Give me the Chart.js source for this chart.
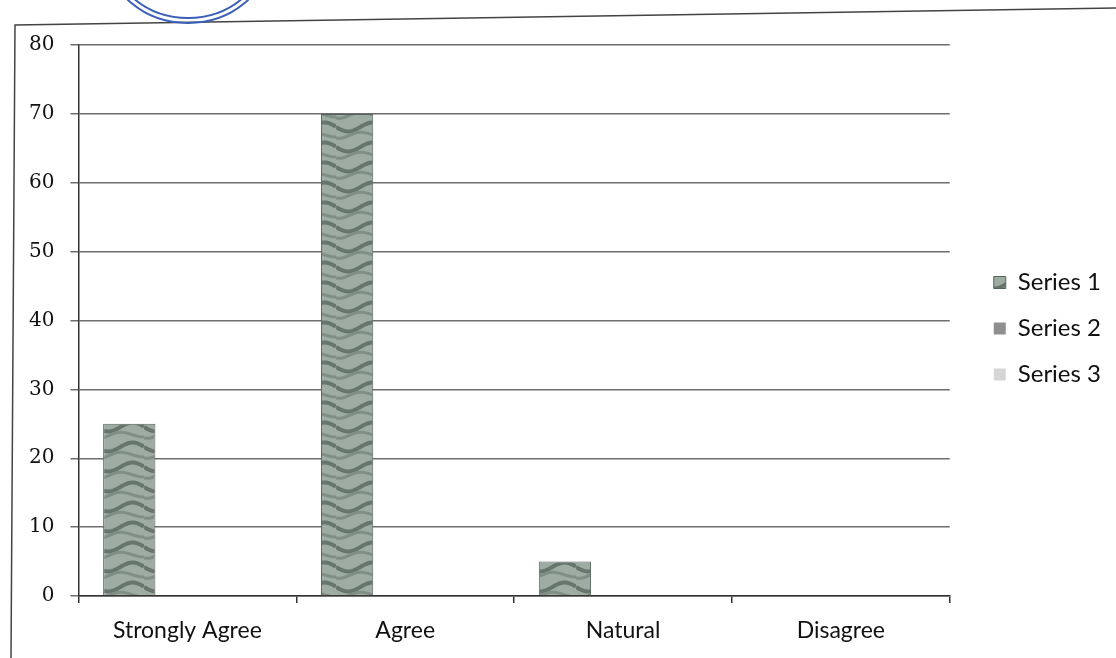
<!DOCTYPE html>
<html>
<head>
<meta charset="utf-8">
<script src="https://cdn.jsdelivr.net/npm/chart.js@4/dist/chart.umd.min.js"></script>
<style>
  html, body { margin: 0; padding: 0; background: #fff; }
  #wrap { width: 1116px; height: 658px; }
</style>
</head>
<body>
<div id="wrap"><canvas id="chart"></canvas></div>
<script>
var categories = ['Strongly Agree', 'Agree', 'Natural', 'Disagree'];
var series1 = [25, 70, 5, 0];
var series2 = [0, 0, 0, 0];
var series3 = [0, 0, 0, 0];
var yTicks = [0, 10, 20, 30, 40, 50, 60, 70, 80];

// wavy grey-green texture like the printed bars
function barPattern() {
  var c = document.createElement('canvas');
  c.width = 48;
  c.height = 20;
  var g = c.getContext('2d');
  g.fillStyle = '#9eaca3';
  g.fillRect(0, 0, 48, 20);
  g.strokeStyle = '#66766c';
  g.lineWidth = 4;
  g.beginPath();
  for (var x = 0; x <= 48; x += 2) {
    var y = 7 + 3 * Math.sin(x / 48 * Math.PI * 2) + 1.5 * Math.sin(x / 8);
    if (x === 0) g.moveTo(x, y); else g.lineTo(x, y);
  }
  g.stroke();
  g.strokeStyle = '#7f8f85';
  g.lineWidth = 3;
  g.beginPath();
  for (x = 0; x <= 48; x += 2) {
    y = 15 + 2.5 * Math.sin(x / 48 * Math.PI * 2 + 1) + Math.cos(x / 6);
    if (x === 0) g.moveTo(x, y); else g.lineTo(x, y);
  }
  g.stroke();
  return g.createPattern(c, 'repeat');
}

var LEGEND_DX = 22, LEGEND_DY = -23;

// scanned page frame and stamp edge
var pageFrame = {
  id: 'pageFrame',
  beforeLayout: function (chart) {
    var lg = chart.legend;
    if (lg && !lg._shifted) {
      var fit = lg.fit, draw = lg.draw;
      lg.fit = function () { fit.apply(this, arguments); this.width += LEGEND_DX; };
      lg.draw = function () {
        this.ctx.save();
        this.ctx.translate(LEGEND_DX, LEGEND_DY);
        draw.apply(this, arguments);
        this.ctx.restore();
      };
      lg._shifted = true;
    }
  },
  beforeDraw: function (chart) {
    var ctx = chart.ctx;
    ctx.save();
    ctx.fillStyle = '#fff';
    ctx.fillRect(0, 0, chart.width, chart.height);
    ctx.strokeStyle = '#444';
    ctx.lineWidth = 1.5;
    ctx.beginPath();
    ctx.moveTo(11, 658);
    ctx.lineTo(15, 25);
    ctx.lineTo(1116, 8);
    ctx.stroke();
    ctx.strokeStyle = '#3a5fb8';
    ctx.lineWidth = 2;
    ctx.beginPath();
    ctx.ellipse(188, -45, 80, 68, 0, 0, Math.PI);
    ctx.stroke();
    ctx.beginPath();
    ctx.ellipse(188, -45, 75, 63, 0, 0, Math.PI);
    ctx.stroke();
    ctx.restore();
  }
};

new Chart(document.getElementById('chart'), {
  type: 'bar',
  data: {
    labels: categories,
    datasets: [
      { label: 'Series 1', data: series1, backgroundColor: barPattern(), borderColor: '#56635b', borderWidth: 1 },
      { label: 'Series 2', data: series2, backgroundColor: '#8f8f8f', borderColor: '#6a6a6a', borderWidth: 0 },
      { label: 'Series 3', data: series3, backgroundColor: '#d6d6d6', borderColor: '#b0b0b0', borderWidth: 0 }
    ]
  },
  options: {
    responsive: true,
    maintainAspectRatio: false,
    animation: false,
    layout: { padding: { left: 13, top: 45, right: 5, bottom: 0 } },
    plugins: {
      legend: {
        position: 'right',
        labels: {
          boxWidth: 12,
          boxHeight: 12,
          padding: 22,
          color: '#111',
          font: { family: 'Lato', size: 24 }
        }
      },
      tooltip: { enabled: false }
    },
    scales: {
      x: {
        offset: true,
        categoryPercentage: 0.66,
        barPercentage: 1.0,
        grid: { display: true, drawOnChartArea: false, offset: true, tickLength: 7, color: '#333', lineWidth: 1.5 },
        border: { color: '#333', width: 1.5 },
        ticks: { color: '#111', padding: 16, font: { family: 'Lato', size: 23, lineHeight: 1.0 } }
      },
      y: {
        min: 0,
        max: 80,
        afterBuildTicks: function (axis) {
          axis.ticks = yTicks.map(function (v) { return { value: v }; });
        },
        grid: { color: '#6e6e6e', lineWidth: 1.5, tickLength: 8 },
        border: { color: '#333', width: 1.5 },
        ticks: { color: '#111', padding: 16, font: { family: 'DejaVu Serif', size: 20 } }
      }
    }
  },
  plugins: [pageFrame]
});
</script>
</body>
</html>
